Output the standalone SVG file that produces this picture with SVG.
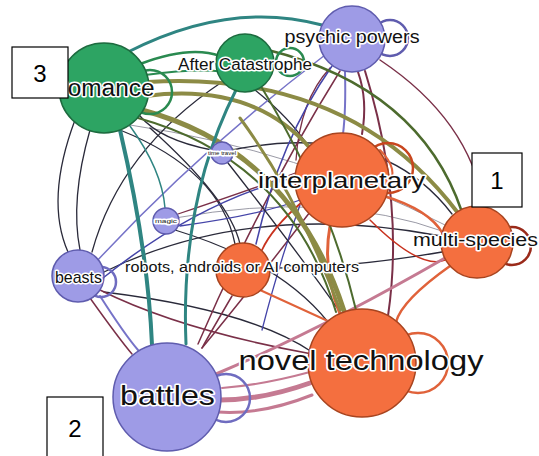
<svg xmlns="http://www.w3.org/2000/svg" width="539" height="456" viewBox="0 0 539 456">
<style>
.e{fill:none;stroke-linecap:round}
.teal{stroke:#2f8582}
.grn{stroke:#2a8a50}
.olv{stroke:#8c8b45}
.dgr{stroke:#4d6b2e}
.mar{stroke:#7a3048}
.drk{stroke:#2a2a3a}
.lav{stroke:#7673c8}
.blu{stroke:#4444a8}
.org{stroke:#e0623a}
.red{stroke:#c8321e}
.pnk{stroke:#c57a92}
.gry{stroke:#9a9aa6}
.ng circle.n{fill:#2da463;stroke:#1d6b3f;stroke-width:1.5}
.nl circle.n{fill:#9e9be6;stroke:#5f5cae;stroke-width:1.5}
.no circle.n{fill:#f46f3f;stroke:#a8441f;stroke-width:1.5}
.loop{fill:none;stroke-width:2.5}
.lbl{font-family:"Liberation Sans",Arial,sans-serif;fill:#111;stroke:#fff;stroke-width:3;stroke-linejoin:round;paint-order:stroke;text-anchor:middle;dominant-baseline:central}
.box rect{fill:#fff;stroke:#000;stroke-width:1.2}
.box text{font-family:"Liberation Sans",Arial,sans-serif;font-size:24px;fill:#000;text-anchor:middle;dominant-baseline:central}
</style>
<rect width="539" height="456" fill="#fff"/>
<g id="connectors">
<!-- thin background edges -->
<path class="e gry" stroke-width="1" d="M130,125 Q300,150 445,225"/>
<path class="e gry" stroke-width="1" d="M175,218 Q330,190 445,232"/>
<path class="e drk" stroke-width="1.3" d="M75,120 Q45,200 68,252"/>
<path class="e drk" stroke-width="1.3" d="M90,130 Q70,200 80,250"/>
<path class="e drk" stroke-width="1.3" d="M120,130 Q220,170 235,244"/>
<path class="e drk" stroke-width="1.3" d="M222,82 Q120,150 92,252"/>
<path class="e drk" stroke-width="1.3" d="M255,90 Q290,118 308,146"/>
<path class="e drk" stroke-width="1.3" d="M441,236 Q250,200 104,272"/>
<path class="e drk" stroke-width="1.3" d="M442,252 Q350,268 270,268"/>
<path class="e drk" stroke-width="1.3" d="M212,150 Q160,140 140,116"/>
<path class="e drk" stroke-width="1.3" d="M232,150 Q380,120 452,214"/>
<path class="e drk" stroke-width="1.3" d="M150,128 Q230,200 240,244"/>
<path class="e drk" stroke-width="1.3" d="M104,292 Q250,310 312,352"/>
<path class="e mar" stroke-width="1.5" d="M380,60 Q470,120 484,207"/>
<path class="e mar" stroke-width="2" d="M365,71 Q405,200 388,316"/>
<path class="e mar" stroke-width="2" d="M358,72 Q368,100 362,134"/>
<path class="e mar" stroke-width="1.5" d="M340,71 Q260,200 198,344"/>
<path class="e mar" stroke-width="1.5" d="M310,212 Q250,290 202,348"/>
<path class="e mar" stroke-width="1.5" d="M312,354 Q180,330 100,290"/>
<path class="e mar" stroke-width="1.5" d="M232,296 Q212,330 202,348"/>
<path class="e mar" stroke-width="1.5" d="M90,298 Q120,340 132,354"/>
<path class="e mar" stroke-width="1.3" d="M178,214 Q250,190 298,172"/>
<path class="e mar" stroke-width="1.3" d="M330,68 Q300,100 296,160"/>
<path class="e lav" stroke-width="2" d="M345,72 Q346,110 343,134"/>
<path class="e lav" stroke-width="1.5" d="M325,55 Q200,150 96,262"/>
<path class="e lav" stroke-width="2" d="M100,296 Q125,335 138,350"/>
<path class="e blu" stroke-width="1.5" d="M332,66 Q280,140 256,244"/>
<path class="e blu" stroke-width="1.5" d="M300,176 Q200,200 103,278"/>
<path class="e blu" stroke-width="1.3" d="M180,226 Q260,215 300,200"/>
<path class="e blu" stroke-width="1.3" d="M300,205 Q280,260 262,330"/>
<path class="e drk" stroke-width="1.3" d="M175,230 Q280,262 328,322"/>
<path class="e drk" stroke-width="1.3" d="M228,163 Q300,255 340,312"/>
<!-- orange / red -->
<path class="e org" stroke-width="2.5" d="M384,196 Q430,210 443,234"/>
<path class="e org" stroke-width="3" d="M330,226 Q322,270 340,314"/>
<path class="e red" stroke-width="1.8" d="M302,202 Q272,228 262,250"/>
<path class="e org" stroke-width="2.5" d="M450,266 Q402,300 396,322"/>
<path class="e org" stroke-width="2" d="M330,322 Q282,300 260,290"/>
<path class="e org" stroke-width="2" d="M388,186 Q400,170 380,150"/>
<path class="e red" stroke-width="1.5" d="M370,220 Q420,270 445,260"/>
<!-- pink -->
<path class="e pnk" stroke-width="3" d="M445,258 Q320,330 216,374"/>
<path class="e pnk" stroke-width="5" d="M310,383 Q262,400 220,400"/>
<path class="e pnk" stroke-width="3" d="M312,395 Q262,415 218,412"/>
<path class="e pnk" stroke-width="2" d="M310,372 Q262,385 222,388"/>
<!-- romance / green family -->
<path class="e teal" stroke-width="3" d="M128,52 Q230,0 322,25"/>
<path class="e grn" stroke-width="2.5" d="M140,64 Q190,45 220,56"/>
<path class="e grn" stroke-width="2" d="M145,75 Q200,68 222,72"/>
<path class="e olv" stroke-width="4" d="M146,96 Q252,82 310,148"/>
<path class="e olv" stroke-width="4" d="M148,82 Q350,70 458,213"/>
<path class="e dgr" stroke-width="2.5" d="M268,50 Q420,88 462,212"/>
<path class="e olv" stroke-width="5" d="M142,110 Q292,150 344,311"/>
<path class="e dgr" stroke-width="2" d="M138,118 Q290,160 336,312"/>
<path class="e teal" stroke-width="4" d="M120,130 Q148,250 152,345"/>
<path class="e teal" stroke-width="3" d="M236,90 Q180,200 186,344"/>
<path class="e teal" stroke-width="1.5" d="M130,126 Q162,170 165,208"/>
<path class="e dgr" stroke-width="2" d="M262,88 Q330,200 356,310"/>
<path class="e olv" stroke-width="3" d="M240,118 Q300,200 340,310"/>
</g>
<g id="romance" class="ng">
<circle class="loop" cx="150" cy="92" r="22" stroke="#2a8a50"/>
<circle class="n" cx="104" cy="88" r="45"/>
<text class="lbl" x="107" y="88" font-size="23" textLength="95" lengthAdjust="spacingAndGlyphs">romance</text>
</g>
<g id="after-catastrophe" class="ng">
<circle class="loop" cx="290" cy="62" r="14" stroke="#2a8a50"/>
<circle class="n" cx="245" cy="63" r="29"/>
<text class="lbl" x="245" y="64" font-size="16" textLength="134" lengthAdjust="spacingAndGlyphs">After Catastrophe</text>
</g>
<g id="psychic-powers" class="nl">
<circle class="loop" cx="390" cy="38" r="18" stroke="#5f5cae" stroke-width="1.5"/>
<circle class="n" cx="352" cy="39" r="33"/>
<text class="lbl" x="352" y="37" font-size="18" textLength="135" lengthAdjust="spacingAndGlyphs">psychic powers</text>
</g>
<g id="time-travel" class="nl">
<circle class="n" cx="222" cy="153" r="11"/>
<text class="lbl" x="222" y="153" font-size="5" stroke-width="1" textLength="28" lengthAdjust="spacingAndGlyphs">time travel</text>
</g>
<g id="magic" class="nl">
<circle class="n" cx="166" cy="221" r="13"/>
<text class="lbl" x="166" y="221" font-size="6" stroke-width="1.2" textLength="22" lengthAdjust="spacingAndGlyphs">magic</text>
</g>
<g id="interplanetary" class="no">
<circle class="loop" cx="388" cy="168" r="25" stroke="#c8461e"/>
<circle class="n" cx="342" cy="180" r="47"/>
<text class="lbl" x="341.5" y="180" font-size="22" textLength="167" lengthAdjust="spacingAndGlyphs">interplanetary</text>
</g>
<g id="multi-species" class="no">
<circle class="loop" cx="512" cy="246" r="19" stroke="#9a2a1a" stroke-width="2"/>
<circle class="n" cx="477" cy="242" r="36"/>
<text class="lbl" x="475.5" y="240" font-size="18" textLength="125" lengthAdjust="spacingAndGlyphs">multi-species</text>
</g>
<g id="beasts" class="nl">
<circle class="loop" cx="101" cy="282" r="15" stroke="#6f6cc0" stroke-width="2"/>
<circle class="n" cx="78" cy="276" r="26"/>
<text class="lbl" x="78.5" y="277" font-size="17" textLength="47" lengthAdjust="spacingAndGlyphs">beasts</text>
</g>
<g id="robots" class="no">
<circle class="n" cx="243" cy="270" r="27"/>
<text class="lbl" x="242" y="267" font-size="14" textLength="234" lengthAdjust="spacingAndGlyphs">robots, androids or AI computers</text>
</g>
<g id="novel-technology" class="no">
<circle class="loop" cx="418" cy="363" r="30" stroke="#e0623a" stroke-width="3"/>
<circle class="n" cx="362" cy="363" r="54"/>
<text class="lbl" x="361" y="360" font-size="28" textLength="245" lengthAdjust="spacingAndGlyphs">novel technology</text>
</g>
<g id="battles" class="nl">
<circle class="loop" cx="226" cy="398" r="24" stroke="#6f6cc0" stroke-width="2.5"/>
<circle class="n" cx="167" cy="397" r="54"/>
<text class="lbl" x="167.5" y="395" font-size="28" textLength="95" lengthAdjust="spacingAndGlyphs">battles</text>
</g>
<g id="box-3" class="box"><rect x="12" y="47" width="56" height="51"/><text x="40" y="73">3</text></g>
<g id="box-1" class="box"><rect x="472" y="153" width="50" height="54"/><text x="497" y="180">1</text></g>
<g id="box-2" class="box"><rect x="47" y="397" width="56" height="62"/><text x="75" y="428">2</text></g>
</svg>
